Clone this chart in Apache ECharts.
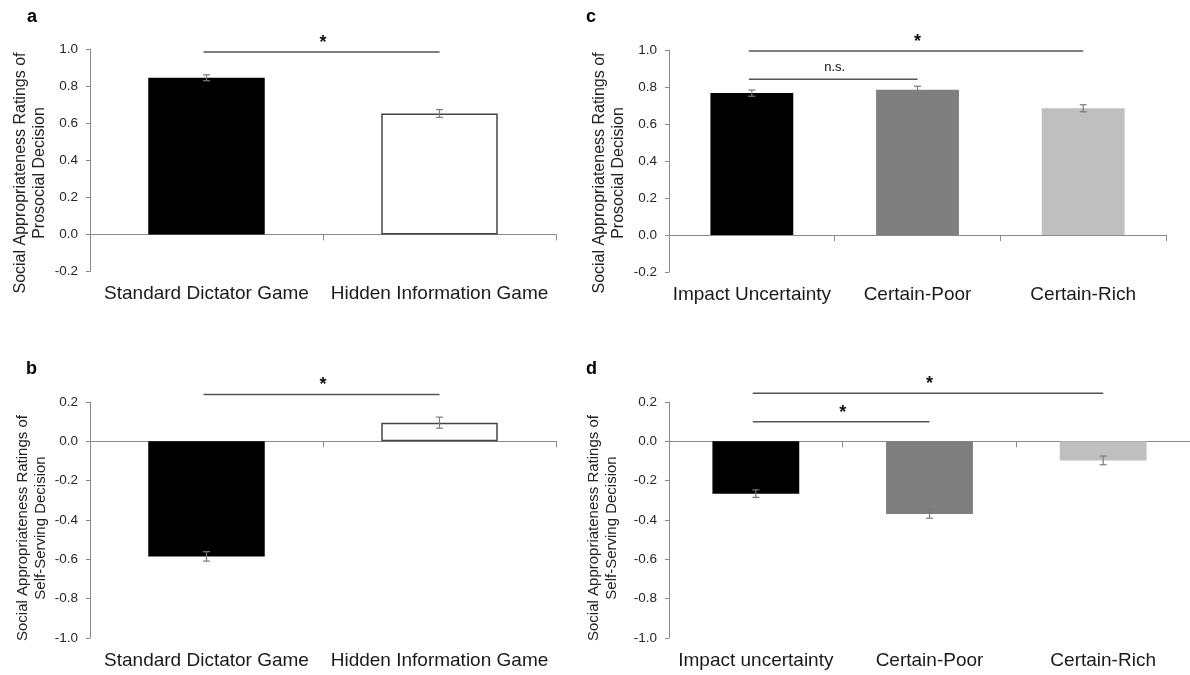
<!DOCTYPE html>
<html>
<head>
<meta charset="utf-8">
<script src="https://cdn.jsdelivr.net/npm/echarts/dist/echarts.min.js"></script>
<style>
html,body{margin:0;padding:0;background:#fff;}
#chart{width:1190px;height:675px;}
</style>
</head>
<body>
<div id="chart"></div>
<script>
// ---------- data ----------
const catsAB = ['Standard Dictator Game', 'Hidden Information Game'];
const catsC = ['Impact Uncertainty', 'Certain-Poor', 'Certain-Rich'];
const catsD = ['Impact uncertainty', 'Certain-Poor', 'Certain-Rich'];

const valsA = [0.845, 0.652];
const errsA = [0.016, 0.021];
const valsB = [-0.585, 0.095];
const errsB = [0.024, 0.028];
const valsC = [0.767, 0.785, 0.685];
const errsC = [0.017, 0.019, 0.019];
const valsD = [-0.266, -0.369, -0.097];
const errsD = [0.019, 0.022, 0.022];

// significance brackets: [fromIndex, toIndex, yValue]
const sigA = [[0, 1, 0.984]];
const sigTextA = ['*'];
const sigB = [[0, 1, 0.238]];
const sigTextB = ['*'];
const sigC = [[0, 2, 0.995], [0, 1, 0.842]];
const sigTextC = ['*', 'n.s.'];
const sigD = [[0, 2, 0.245], [0, 1, 0.100]];
const sigTextD = ['*', '*'];

const yTicksTop = { min: -0.2, max: 1.0, interval: 0.2 };
const yTicksBottom = { min: -1.0, max: 0.2, interval: 0.2 };

// ---------- styles ----------
const FONT = 'Liberation Sans, Arial, sans-serif';
const AXIS_COLOR = '#8a8a8a';
const fillAB = ['#000000', '#ffffff'];
const edgeAB = ['#000000', '#444444'];
const fillCD = ['#000000', '#7f7f7f', '#bfbfbf'];
const edgeCD = ['#000000', '#7f7f7f', '#bfbfbf'];

const grids = [
  { left: 90, top: 49, width: 466, height: 222.5 },   // a
  { left: 669, top: 50, width: 497, height: 222 },    // c
  { left: 90, top: 402, width: 466, height: 236 },    // b
  { left: 669, top: 402, width: 521, height: 236 }    // d
];

const panels = [
  { cats: catsAB, vals: valsA, errs: errsA, fill: fillAB, edge: edgeAB, ticks: yTicksTop, sig: sigA, sigText: sigTextA },
  { cats: catsC, vals: valsC, errs: errsC, fill: fillCD, edge: edgeCD, ticks: yTicksTop, sig: sigC, sigText: sigTextC },
  { cats: catsAB, vals: valsB, errs: errsB, fill: fillAB, edge: edgeAB, ticks: yTicksBottom, sig: sigB, sigText: sigTextB },
  { cats: catsD, vals: valsD, errs: errsD, fill: fillCD, edge: edgeCD, ticks: yTicksBottom, sig: sigD, sigText: sigTextD }
];

const xAxis = [], yAxis = [], series = [];

panels.forEach((p, i) => {
  // axis line at zero with ticks
  xAxis.push({
    type: 'category', data: p.cats, gridIndex: i, position: 'bottom',
    axisLine: { show: true, onZero: true, lineStyle: { color: AXIS_COLOR, width: 1 } },
    axisTick: { show: true, length: 6, lineStyle: { color: AXIS_COLOR, width: 1 } },
    axisLabel: { show: false },
    splitLine: { show: false }
  });
  // labels at the bottom
  xAxis.push({
    type: 'category', data: p.cats, gridIndex: i, position: 'bottom',
    axisLine: { show: false, onZero: false },
    axisTick: { show: false },
    axisLabel: { show: true, interval: 0, fontSize: 19, fontFamily: FONT, color: '#1a1a1a', margin: 13 },
    splitLine: { show: false }
  });
  yAxis.push({
    type: 'value', gridIndex: i, min: p.ticks.min, max: p.ticks.max, interval: p.ticks.interval,
    axisLine: { show: true, lineStyle: { color: AXIS_COLOR, width: 1 } },
    axisTick: { show: true, length: 4, lineStyle: { color: AXIS_COLOR, width: 1 } },
    splitLine: { show: false },
    axisLabel: {
      fontSize: 13.5, fontFamily: FONT, color: '#262626', margin: 12,
      formatter: v => (Math.abs(v) < 1e-9 ? '0.0' : v.toFixed(1))
    }
  });

  const xi = 2 * i;
  series.push({
    type: 'bar', xAxisIndex: xi, yAxisIndex: i, barWidth: '50%',
    data: p.vals.map((v, k) => ({
      value: v,
      itemStyle: { color: p.fill[k], borderColor: p.edge[k], borderWidth: 1.5 }
    })),
    silent: true, z: 2
  });

  const errs = p.errs;
  series.push({
    type: 'custom', xAxisIndex: xi, yAxisIndex: i, z: 5, silent: true,
    data: p.vals.map((v, k) => [k, v - errs[k], v + errs[k]]),
    encode: { x: 0, y: [1, 2] },
    renderItem: function (params, api) {
      const x = api.value(0);
      const lo = api.coord([x, api.value(1)]);
      const hi = api.coord([x, api.value(2)]);
      const hw = 3.5;
      const st = { stroke: '#7a7a7a', lineWidth: 1.2 };
      return {
        type: 'group',
        children: [
          { type: 'line', shape: { x1: lo[0], y1: lo[1], x2: hi[0], y2: hi[1] }, style: st },
          { type: 'line', shape: { x1: lo[0] - hw, y1: lo[1], x2: lo[0] + hw, y2: lo[1] }, style: st },
          { type: 'line', shape: { x1: hi[0] - hw, y1: hi[1], x2: hi[0] + hw, y2: hi[1] }, style: st }
        ]
      };
    }
  });

  const texts = p.sigText;
  series.push({
    type: 'custom', xAxisIndex: xi, yAxisIndex: i, z: 6, silent: true, clip: false,
    data: p.sig.map(s => [s[0], s[1], s[2]]),
    encode: { x: [0, 1], y: 2 },
    renderItem: function (params, api) {
      const a = api.coord([api.value(0), api.value(2)]);
      const b = api.coord([api.value(1), api.value(2)]);
      const t = texts[params.dataIndex];
      const isStar = t === '*';
      return {
        type: 'group',
        children: [
          { type: 'line', shape: { x1: a[0] - 3, y1: a[1], x2: b[0], y2: b[1] },
            style: { stroke: '#555555', lineWidth: 1.5 } },
          { type: 'text', x: (a[0] + b[0]) / 2, y: a[1] - (isStar ? 9 : 12),
            style: { text: t, fill: '#111', align: 'center', verticalAlign: 'middle',
              fontFamily: FONT, fontSize: isStar ? 18 : 13, fontWeight: isStar ? 'bold' : 'normal' } }
        ]
      };
    }
  });
});

const graphic = [
  { type: 'text', x: 27, y: 17, style: { text: 'a', fontFamily: FONT, fontSize: 18, fontWeight: 'bold', fill: '#000', verticalAlign: 'middle' } },
  { type: 'text', x: 586, y: 17, style: { text: 'c', fontFamily: FONT, fontSize: 18, fontWeight: 'bold', fill: '#000', verticalAlign: 'middle' } },
  { type: 'text', x: 26, y: 369, style: { text: 'b', fontFamily: FONT, fontSize: 18, fontWeight: 'bold', fill: '#000', verticalAlign: 'middle' } },
  { type: 'text', x: 586, y: 369, style: { text: 'd', fontFamily: FONT, fontSize: 18, fontWeight: 'bold', fill: '#000', verticalAlign: 'middle' } },
  { type: 'text', x: 30, y: 173, rotation: Math.PI / 2,
    style: { text: 'Social Appropriateness Ratings of\nProsocial Decision', fontFamily: FONT, fontSize: 16, lineHeight: 19, fill: '#222', align: 'center', verticalAlign: 'middle' } },
  { type: 'text', x: 609, y: 173, rotation: Math.PI / 2,
    style: { text: 'Social Appropriateness Ratings of\nProsocial Decision', fontFamily: FONT, fontSize: 16, lineHeight: 19, fill: '#222', align: 'center', verticalAlign: 'middle' } },
  { type: 'text', x: 32, y: 528, rotation: Math.PI / 2,
    style: { text: 'Social Appropriateness Ratings of\nSelf-Serving Decision', fontFamily: FONT, fontSize: 15, lineHeight: 18, fill: '#222', align: 'center', verticalAlign: 'middle' } },
  { type: 'text', x: 603, y: 528, rotation: Math.PI / 2,
    style: { text: 'Social Appropriateness Ratings of\nSelf-Serving Decision', fontFamily: FONT, fontSize: 15, lineHeight: 18, fill: '#222', align: 'center', verticalAlign: 'middle' } }
];

const chart = echarts.init(document.getElementById('chart'), null, { renderer: 'canvas' });
chart.setOption({
  animation: false,
  backgroundColor: '#ffffff',
  grid: grids.map(g => Object.assign({ containLabel: false }, g)),
  xAxis: xAxis,
  yAxis: yAxis,
  series: series,
  graphic: graphic
});
</script>
</body>
</html>
